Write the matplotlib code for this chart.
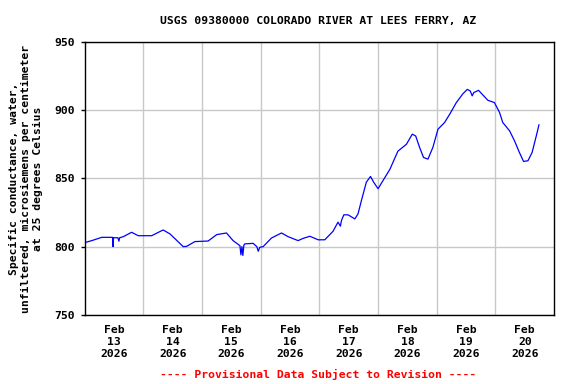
import matplotlib
matplotlib.use("Agg")
import matplotlib.pyplot as plt
import numpy as np

# hours after Feb 13 2026 00:00 and specific conductance (uS/cm)
hours = [0.2, 2.9, 7.0, 11.4, 11.6, 11.8, 13.6, 14.0, 14.3, 15.8, 19.2, 21.9, 27.4,
         32.1, 34.9, 40.3, 41.7, 45.1, 50.5, 54.0, 58.0, 60.7, 63.5, 63.9, 64.3,
         64.7, 65.1, 65.5, 68.9, 70.4, 71.0, 71.6, 73.0, 76.4, 80.5, 83.2, 87.3,
         89.3, 92.1, 95.5, 98.2, 101.6, 103.6, 104.6, 105.0, 106.0, 107.7, 110.5,
         111.8, 113.2, 115.2, 116.9, 118.2, 120.0, 122.7, 124.8, 128.1, 131.6,
         134.0, 135.4, 137.0, 138.6, 140.4, 142.4, 144.5, 147.2, 149.3, 152.0,
         154.7, 156.5, 157.7, 158.5, 159.1, 161.1, 162.9, 164.9, 167.6, 169.7,
         171.0, 173.8, 175.8, 177.8, 179.5, 181.3, 183.0, 184.7, 185.8]
values = [803.0, 804.4, 806.8, 806.8, 800.0, 806.5, 806.5, 804.0, 806.5, 807.3, 810.5,
          808.0, 808.0, 812.2, 809.3, 800.0, 800.2, 803.7, 804.1, 808.8, 810.0,
          804.4, 800.7, 794.0, 800.0, 793.5, 801.0, 802.0, 802.4, 800.0, 796.6,
          799.5, 800.0, 806.3, 810.0, 807.3, 804.4, 806.0, 807.6, 805.0, 805.0,
          811.3, 817.9, 815.0, 819.0, 823.3, 823.3, 820.3, 824.0, 833.8, 847.2,
          851.4, 847.2, 842.4, 850.4, 856.5, 869.9, 875.0, 882.4, 881.0, 872.6,
          865.3, 864.1, 872.6, 886.0, 890.9, 897.0, 905.5, 912.0, 915.2, 914.0,
          910.4, 912.8, 914.5, 911.0, 907.2, 905.5, 898.2, 890.9, 884.8, 877.5,
          869.0, 862.4, 862.9, 869.0, 881.0, 889.2]

day_labels = ["Feb\n13\n2026", "Feb\n14\n2026", "Feb\n15\n2026", "Feb\n16\n2026",
              "Feb\n17\n2026", "Feb\n18\n2026", "Feb\n19\n2026", "Feb\n20\n2026"]
y_ticks = [750, 800, 850, 900, 950]

font = {"family": "DejaVu Sans Mono", "weight": "bold", "size": 8.2}

fig = plt.figure(figsize=(5.76, 3.84), dpi=100)
ax = fig.add_axes([0.147, 0.180, 0.815, 0.711])

x = np.array(hours) / 24.0
ax.plot(x, values, color="#0000ff", linewidth=0.9)

ax.set_xlim(0, 8)
ax.set_ylim(750, 950)

# midnight gridlines, labels at noon
ax.set_xticks(np.arange(1, 8))
ax.set_xticklabels([])
ax.tick_params(axis="x", which="major", length=0)
ax.set_xticks(np.arange(8) + 0.5, minor=True)
ax.set_xticklabels(day_labels, minor=True, fontdict=font, linespacing=1.25)
ax.tick_params(axis="x", which="minor", length=0, pad=7)

ax.set_yticks(y_ticks)
ax.set_yticklabels([str(v) for v in y_ticks], fontdict=font)
ax.tick_params(axis="y", length=3, width=1, pad=4, direction="out")

ax.grid(True, which="major", color="#c8c8c8", linewidth=1)
ax.set_axisbelow(True)
for s in ax.spines.values():
    s.set_color("black")
    s.set_linewidth(1)

fig.text(26 / 576, 0.535,
         "Specific conductance, water,\nunfiltered, microsiemens per centimeter\nat 25 degrees Celsius",
         rotation=90, ha="center", va="center", multialignment="center",
         linespacing=1.3, **font)

fig.text(0.553, 0.946, "USGS 09380000 COLORADO RIVER AT LEES FERRY, AZ",
         ha="center", va="center", **font)
fig.text(0.553, 0.024, "---- Provisional Data Subject to Revision ----",
         ha="center", va="center", color="#ff0000", **font)

fig.savefig("out.png", dpi=100)
